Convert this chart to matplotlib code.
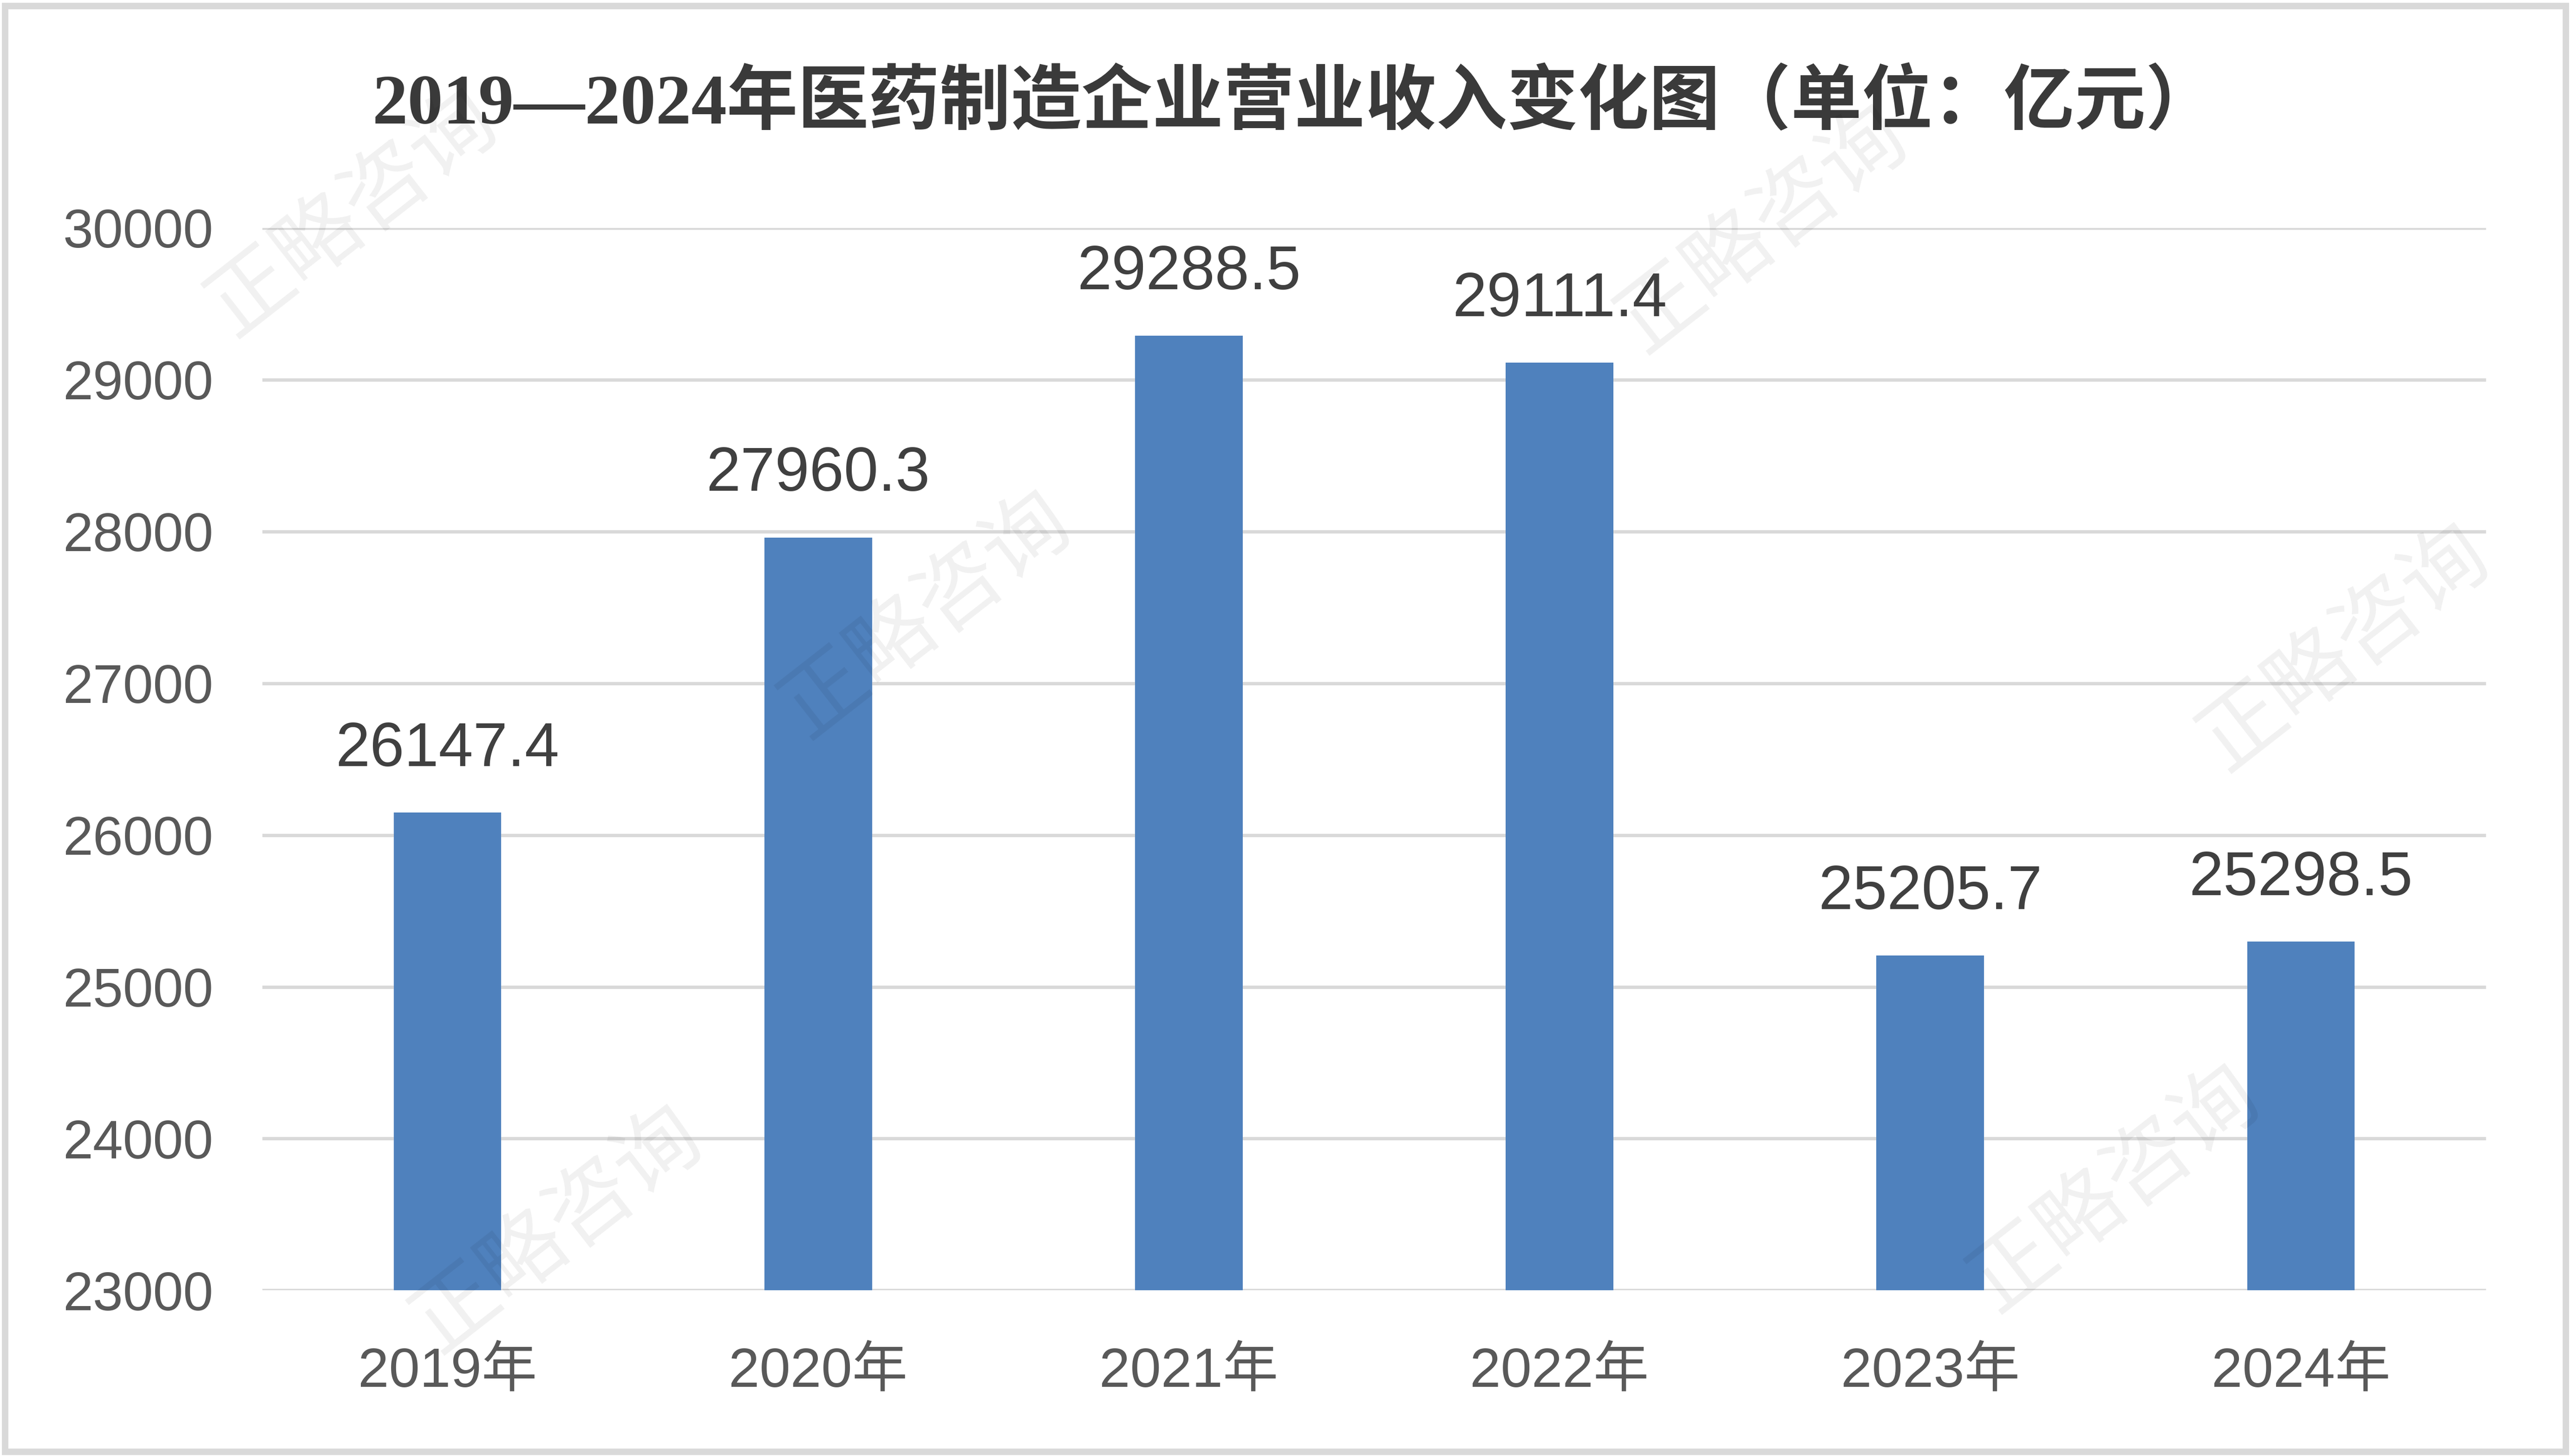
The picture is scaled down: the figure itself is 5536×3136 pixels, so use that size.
import matplotlib
matplotlib.use("Agg")
import matplotlib.pyplot as plt
from matplotlib.patches import Rectangle

categories = ["2019年", "2020年", "2021年", "2022年", "2023年", "2024年"]
values = [26147.4, 27960.3, 29288.5, 29111.4, 25205.7, 25298.5]
value_labels = ["26147.4", "27960.3", "29288.5", "29111.4", "25205.7", "25298.5"]
yticks = [23000, 24000, 25000, 26000, 27000, 28000, 29000, 30000]
title = "2019—2024年医药制造企业营业收入变化图（单位：亿元）"
watermark = "正略咨询"

FAM = ["Liberation Sans", "Noto Sans CJK SC", "DejaVu Sans"]
plt.rcParams["font.family"] = FAM

fig = plt.figure(figsize=(27.68, 15.68), dpi=200)
ax = fig.add_axes([0.102, 0.1137, 0.865, 0.7298])

x = list(range(len(categories)))
ax.bar(x, [v - 23000 for v in values], bottom=23000, width=0.29, color="#4F81BD", zorder=3)
ax.set_xlim(-0.5, len(categories) - 0.5)
ax.set_ylim(23000, 30000)
ax.set_yticks(yticks)
ax.set_yticklabels([str(t) for t in yticks])
ax.set_xticks(x)
ax.set_xticklabels(categories)
ax.yaxis.grid(True, color="#D9D9D9", linewidth=2.6, zorder=0)
ax.xaxis.grid(False)
for s in ax.spines.values():
    s.set_visible(False)
ax.tick_params(axis="y", length=0, pad=38, labelsize=42, labelcolor="#595959")
ax.tick_params(axis="x", length=0, pad=44, labelsize=43, labelcolor="#595959")

for xi, v, lab in zip(x, values, value_labels):
    ax.annotate(lab, (xi, v), xytext=(0, 26), textcoords="offset points",
                ha="center", va="bottom", fontsize=48, color="#404040", zorder=5)

fig.text(0.5035, 0.928, title, ha="center", va="center", fontsize=55, fontweight="bold",
         color="#3A3A3A", family=["Liberation Serif", "Noto Sans CJK SC", "DejaVu Sans"])

# watermarks
wm_pos = [(215, 130), (565, 375), (1075, 140), (1430, 395), (340, 750), (1290, 725)]
for (px, py) in wm_pos:
    fig.text(px / 1568, 1 - py / 888, watermark, ha="center", va="center", rotation=38,
             fontsize=66, color="#000000", alpha=0.06, family=["Noto Sans CJK SC"], zorder=10)

# border
fig.patches.append(Rectangle((0.002, 0.003), 0.996, 0.993, transform=fig.transFigure,
                             fill=False, edgecolor="#D9D9D9", linewidth=5))

fig.savefig("out.png", dpi=200, facecolor="white")
